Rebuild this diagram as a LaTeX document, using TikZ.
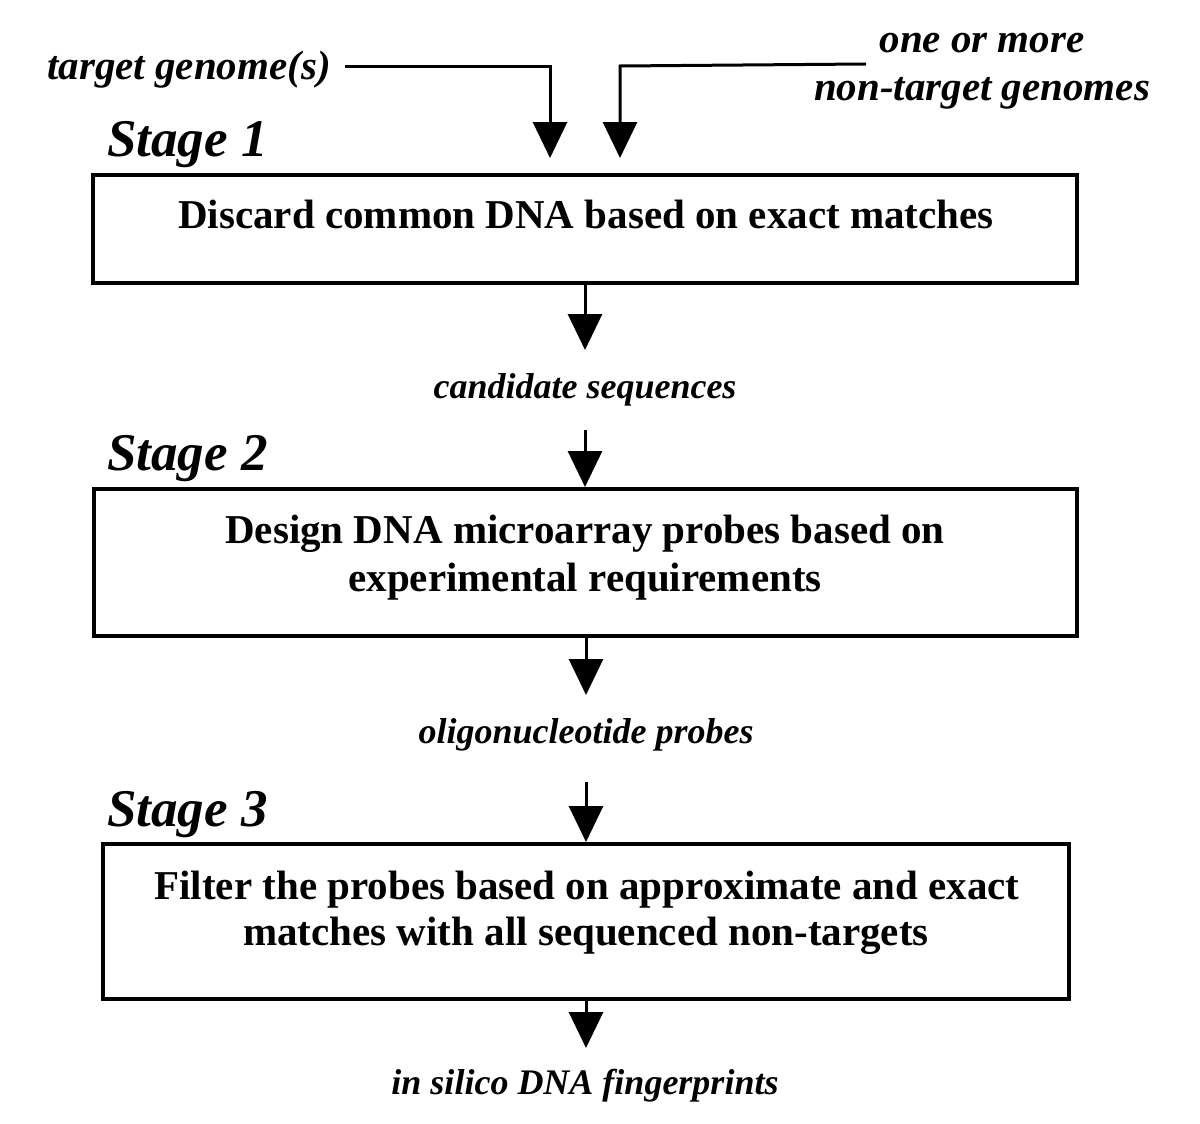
\documentclass[tikz,border=0pt]{standalone}
\usepackage{fontspec}
\setmainfont{Liberation Serif}
\usetikzlibrary{arrows.meta}
\begin{document}
\begin{tikzpicture}[x=1pt,y=-1pt,
  boxtxt/.style={font=\fontsize{41}{48}\selectfont\bfseries, inner sep=0pt, anchor=base},
  lbl/.style={font=\fontsize{36}{42}\selectfont\bfseries\itshape, inner sep=0pt, anchor=base},
  toplbl/.style={font=\fontsize{41}{47}\selectfont\bfseries\itshape, inner sep=0pt, anchor=base},
  stagelbl/.style={font=\fontsize{53}{60}\selectfont\bfseries\itshape, inner sep=0pt, anchor=base west},
  stagebox/.style={draw, line width=4pt, inner sep=0pt},
  arr/.style={line width=3pt, -{Triangle[length=36pt,width=34pt]}}
]
\useasboundingbox (0,0) rectangle (1200,1124);

% top labels
\node[toplbl, anchor=base east] (tg) at (331,80) {target genome(s)};
\node[toplbl] (nt1) at (982,53) {one or more};
\node[toplbl] (nt2) at (982,100) {non-target genomes};

% stage labels
\node[stagelbl] (s1) at (107,156) {Stage 1};
\node[stagelbl] (s2) at (107,470) {Stage 2};
\node[stagelbl] (s3) at (107,826) {Stage 3};

% boxes
\node[stagebox, minimum width=984pt, minimum height=108pt] (b1) at (585,229) {};
\node[stagebox, minimum width=983pt, minimum height=147pt] (b2) at (585.5,562.5) {};
\node[stagebox, minimum width=966pt, minimum height=155pt] (b3) at (586,921.5) {};

% box texts
\node[boxtxt] (b1t) at (586,228) {Discard common DNA based on exact matches};
\node[boxtxt] (b2t1) at (585,543) {Design DNA microarray probes based on};
\node[boxtxt] (b2t2) at (585,591) {experimental requirements};
\node[boxtxt] (b3t1) at (587,899) {Filter the probes based on approximate and exact};
\node[boxtxt] (b3t2) at (586,945) {matches with all sequenced non-targets};

% intermediate labels
\node[lbl] (cs) at (585,398) {candidate sequences};
\node[lbl] (op) at (586,743) {oligonucleotide probes};
\node[lbl] (fp) at (585,1094) {in silico DNA fingerprints};

% connector coordinates
\coordinate (tgs) at (345,67);
\coordinate (tgk) at (550,67);
\coordinate (tge) at (550,158);
\coordinate (nts) at (866,64);
\coordinate (ntk) at (620,66);
\coordinate (nte) at (620,158);
\coordinate (e1) at (585,350);
\coordinate (s2a) at (585,430);
\coordinate (e2) at (586,695);
\coordinate (s3a) at (586,782);
\coordinate (e3) at (586,1048);

% connectors
\draw[arr] (tgs) -- (tgk) -- (tge);
\draw[arr] (nts) -- (ntk) -- (nte);
\draw[arr] (b1.south) -- (e1);
\draw[arr] (s2a) -- (s2a |- b2.north);
\draw[arr] (b2.south -| e2) -- (e2);
\draw[arr] (s3a) -- (s3a |- b3.north);
\draw[arr] (b3.south -| e3) -- (e3);
\end{tikzpicture}
\end{document}
